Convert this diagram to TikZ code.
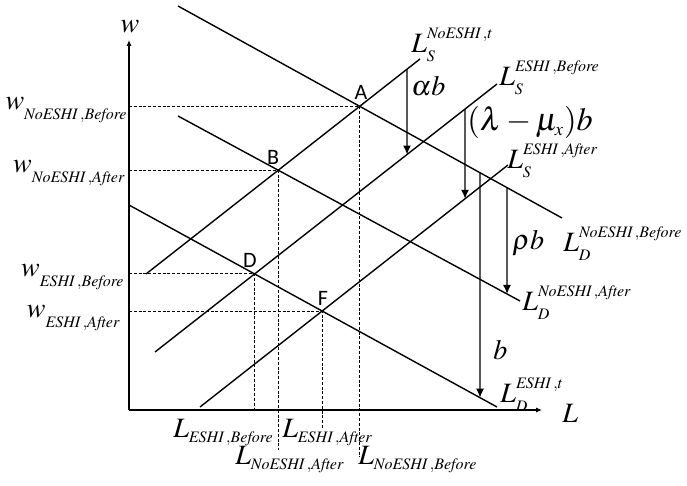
\documentclass[tikz,border=0pt]{standalone}
\usepackage{mathptmx}
\usepackage{fontspec}
\usetikzlibrary{arrows.meta}
\newfontfamily\pointfont{Carlito}
\DeclareMathSizes{14}{14}{8}{6}
\newcommand{\idx}[2]{\mathit{#1}\,,\mathit{#2}}
\newcommand{\wlow}[1]{w_{\raisebox{-2.5pt}{$\scriptstyle#1$}}}
\newcommand{\lcurve}[2]{L_{\raisebox{-1pt}{$\scriptstyle#1$}}^{\raisebox{2pt}{$\scriptstyle#2$}}}

\begin{document}
\begin{tikzpicture}[x=0.5pt, y=-0.5pt, font=\fontsize{14}{16}\selectfont,
    every node/.style={inner sep=0pt},
    curve/.style={line width=0.7pt},
    guide/.style={line width=0.5pt, dash pattern=on 1.5pt off 0.9pt},
    drop/.style={line width=0.7pt, -{Latex[length=4.5pt, width=4pt]}},
    point/.style={font=\fontsize{11}{13}\pointfont}]
  \useasboundingbox (0,0) rectangle (687,486);

  % axes
  \coordinate (O) at (129,410);
  \coordinate (wtop) at (129,40);
  \coordinate (Lend) at (542,410);
  \draw[line width=0.7pt, -{Latex[length=3pt, width=2.6pt]}] (O) -- (wtop);
  \draw[line width=0.7pt, -{Latex[length=3pt, width=2.6pt]}] (O) -- (Lend);
  \node[anchor=base] (wlab) at (130,33) {$w$};
  \node[anchor=base west] (Llab) at (562,423) {$L$};

  % demand and supply curves
  \coordinate (dNB1) at (178,6);   \coordinate (dNB2) at (562,218);
  \coordinate (dNA1) at (178,116); \coordinate (dNA2) at (520,301);
  \coordinate (dE1) at (129,205);  \coordinate (dE2) at (497,407);
  \coordinate (sN1) at (146,274);  \coordinate (sN2) at (420,59);
  \coordinate (sEB1) at (155,352); \coordinate (sEB2) at (497,84);
  \coordinate (sEA1) at (200,407); \coordinate (sEA2) at (508,165);
  \foreach \c in {dNB,dNA,dE,sN,sEB,sEA}
    \draw[curve] (\c1) -- (\c2);

  % equilibria
  \coordinate (A) at (intersection of sN1--sN2 and dNB1--dNB2);
  \coordinate (B) at (intersection of sN1--sN2 and dNA1--dNA2);
  \coordinate (D) at (intersection of sEB1--sEB2 and dE1--dE2);
  \coordinate (F) at (intersection of sEA1--sEA2 and dE1--dE2);
  \coordinate (lowA) at (0,457);
  \coordinate (lowB) at (0,450);
  \coordinate (lowF) at (0,428);
  \draw[guide] (A -| O) -- (A) -- (A |- lowA);
  \draw[guide] (B -| O) -- (B) -- (B |- lowB);
  \draw[guide] (D -| O) -- (D) -- (D |- O);
  \draw[guide] (F -| O) -- (F) -- (F |- lowF);
  \node[point] (Alab) at (361,92) {A};
  \node[point] (Blab) at (273,157) {B};
  \node[point] (Dlab) at (250,260) {D};
  \node[point] (Flab) at (323,298) {F};

  % shifts
  \foreach \x/\from/\to in {407/sN/sEB, 465/sEB/sEA, 480/dNB/dE, 507/dNB/dNA}
    \draw[drop] (intersection of \from1--\from2 and \x,0--\x,486)
      -- (intersection of \to1--\to2 and \x,0--\x,486);
  \node[anchor=base west] (ab) at (411,96) {$\alpha b$};
  \node[anchor=base west] (lmb) at (467,131)
    {\scalebox{1.15}{$(\lambda-\mu_x)b$}};
  \node[anchor=base west] (rb) at (512,250) {$\rho b$};
  \node[anchor=base west] (bb) at (493,360) {$b$};

  % curve labels
  \node[anchor=base west] (lsN) at (411,53) {$\lcurve{S}{\mathit{NoESHI}\,,t}$};
  \node[anchor=base west] (lsEB) at (499,86) {$\lcurve{S}{\idx{ESHI}{Before}}$};
  \node[anchor=base west] (lsEA) at (507,169) {$\lcurve{S}{\idx{ESHI}{After}}$};
  \node[anchor=base west] (ldNB) at (563,252) {$\lcurve{D}{\idx{NoESHI}{Before}}$};
  \node[anchor=base west] (ldNA) at (522,311) {$\lcurve{D}{\idx{NoESHI}{After}}$};
  \node[anchor=base west] (ldE) at (500,403) {$\lcurve{D}{\mathit{ESHI}\,,t}$};

  % axis values
  \node[anchor=base east] (wNB) at (128,110) {$\wlow{\idx{NoESHI}{Before}}$};
  \node[anchor=base east] (wNA) at (126,173) {$\wlow{\idx{NoESHI}{After}}$};
  \node[anchor=base east] (wEB) at (125,277) {$\wlow{\idx{ESHI}{Before}}$};
  \node[anchor=base east] (wEA) at (121,318) {$\wlow{\idx{ESHI}{After}}$};
  \node[anchor=base west] (LEB) at (173,438) {$L_{\idx{ESHI}{Before}}$};
  \node[anchor=base west] (LEA) at (282,438) {$L_{\idx{ESHI}{After}}$};
  \node[anchor=base west] (LNA) at (235,465) {$L_{\idx{NoESHI}{After}}$};
  \node[anchor=base west] (LNB) at (358,465) {$L_{\idx{NoESHI}{Before}}$};
\end{tikzpicture}
\end{document}
